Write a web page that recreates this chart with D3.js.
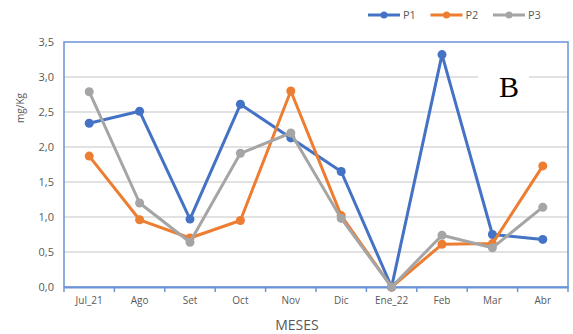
<!DOCTYPE html>
<html>
<head>
<meta charset="utf-8">
<script src="https://cdn.jsdelivr.net/npm/d3@7"></script>
<style>
  body { margin: 0; background: #fff; }
  svg text { font-family: "Open Sans", "Liberation Sans", sans-serif; fill: #595959; }
</style>
</head>
<body>
<svg id="chart" width="573" height="334"></svg>
<script>
let meses = ["Jul_21", "Ago", "Set", "Oct", "Nov", "Dic", "Ene_22", "Feb", "Mar", "Abr"];
let p1 = [2.34, 2.51, 0.97, 2.61, 2.13, 1.65, 0, 3.32, 0.75, 0.68];
let p2 = [1.87, 0.96, 0.70, 0.95, 2.80, 1.02, 0, 0.61, 0.62, 1.73];
let p3 = [2.79, 1.20, 0.64, 1.91, 2.20, 0.98, 0, 0.74, 0.56, 1.14];
let yTicks = [0, 0.5, 1, 1.5, 2, 2.5, 3, 3.5];
let seriesNames = ["P1", "P2", "P3"];
let colors = ["#4472C4", "#ED7D31", "#A5A5A5"];

let svg = d3.select("#chart");
let plotLeft = 64, plotRight = 568, plotTop = 42, plotBottom = 287;

let xScale = d3.scaleBand().domain(meses).range([plotLeft, plotRight]);
let yScale = d3.scaleLinear().domain([0, 3.5]).range([plotBottom, plotTop]);

let fmt = d => d.toFixed(1).replace(".", ",");

// gridlines
svg.append("g")
    .selectAll("line")
    .data(yTicks.slice(1, -1))
    .enter()
    .append("line")
    .attr("x1", plotLeft).attr("x2", plotRight)
    .attr("y1", d => yScale(d)).attr("y2", d => yScale(d))
    .attr("stroke", "#d9d9d9").attr("stroke-width", 1.5);

// blue frame round the plot area
svg.append("rect")
    .attr("x", plotLeft).attr("y", plotTop)
    .attr("width", plotRight - plotLeft).attr("height", plotBottom - plotTop)
    .attr("fill", "none").attr("stroke", "#6a93d8").attr("stroke-width", 1.5);

// x axis
let xAxis = d3.axisBottom(xScale).tickSize(0).tickPadding(10);
let gx = svg.append("g")
    .attr("transform", "translate(0," + plotBottom + ")")
    .call(xAxis);
gx.select(".domain").attr("stroke", "#6a93d8").attr("stroke-width", 2);
gx.selectAll("text").style("font-size", "10px").attr("fill", "#595959");

// tick marks between categories
svg.append("g")
    .selectAll("line")
    .data(meses.concat(["end"]))
    .enter()
    .append("line")
    .attr("x1", (d, i) => plotLeft + i * xScale.step())
    .attr("x2", (d, i) => plotLeft + i * xScale.step())
    .attr("y1", plotBottom).attr("y2", plotBottom + 5)
    .attr("stroke", "#6a93d8").attr("stroke-width", 1.5);

// y axis
let yAxis = d3.axisLeft(yScale).tickValues(yTicks).tickFormat(fmt).tickSize(0).tickPadding(10);
let gy = svg.append("g")
    .attr("transform", "translate(" + plotLeft + ",0)")
    .call(yAxis);
gy.select(".domain").remove();
gy.selectAll("text").style("font-size", "11px").attr("fill", "#595959");

// axis titles
svg.append("text")
    .attr("x", 297).attr("y", 330)
    .attr("text-anchor", "middle")
    .style("font-size", "14px")
    .text("MESES");

svg.append("text")
    .attr("transform", "translate(24,108) rotate(-90)")
    .attr("text-anchor", "middle")
    .style("font-size", "10px")
    .text("mg/Kg");

// "B" label with white box
svg.append("rect")
    .attr("x", 478).attr("y", 66).attr("width", 51).attr("height", 36)
    .attr("fill", "#fff");
svg.append("text")
    .attr("x", 509).attr("y", 97)
    .attr("text-anchor", "middle")
    .style("font-family", "'Liberation Serif', 'DejaVu Serif', serif")
    .style("font-size", "30px")
    .style("fill", "#000")
    .text("B");

// lines and markers
let allSeries = [p1, p2, p3];
let line = d3.line()
    .x((d, i) => xScale(meses[i]) + xScale.bandwidth() / 2)
    .y(d => yScale(d));

allSeries.forEach(function(values, k) {
    let g = svg.append("g");
    g.append("path")
        .datum(values)
        .attr("d", line)
        .attr("fill", "none")
        .attr("stroke", colors[k])
        .attr("stroke-width", 3)
        .attr("stroke-linejoin", "round");
    g.selectAll("circle")
        .data(values)
        .enter()
        .append("circle")
        .attr("cx", (d, i) => xScale(meses[i]) + xScale.bandwidth() / 2)
        .attr("cy", d => yScale(d))
        .attr("r", 4.5)
        .attr("fill", colors[k]);
});

// legend
let legend = svg.append("g");
seriesNames.forEach(function(name, k) {
    let x0 = 368 + k * 62.5;
    legend.append("line")
        .attr("x1", x0).attr("x2", x0 + 32)
        .attr("y1", 15).attr("y2", 15)
        .attr("stroke", colors[k]).attr("stroke-width", 3);
    legend.append("circle")
        .attr("cx", x0 + 16).attr("cy", 15).attr("r", 3.5)
        .attr("fill", colors[k]);
    legend.append("text")
        .attr("x", x0 + 35).attr("y", 19)
        .style("font-size", "11px")
        .text(name);
});
</script>
</body>
</html>
